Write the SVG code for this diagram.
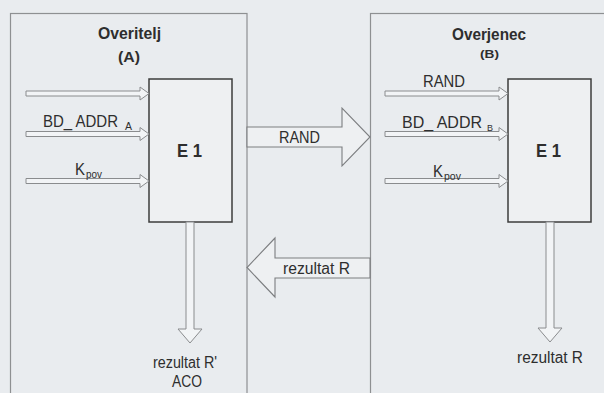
<svg xmlns="http://www.w3.org/2000/svg" width="604" height="393" viewBox="0 0 604 393">
<style>
.t{font-family:"Liberation Sans",Arial,sans-serif;fill:#2e2e2e}
.b{font-weight:bold}
.frame{fill:none;stroke:#8e9092;stroke-width:1.2}
.e1{fill:#eef0f2;stroke:#3c3c3c;stroke-width:1.5}
.arr{fill:#f2f4f6;stroke:#8a8c8e;stroke-width:1}
.big{fill:#eef0f2;stroke:#7c7e80;stroke-width:1.1}
</style>
<defs>
<path id="inA" d="M0,-2.5 H114 V-6.5 L123,0 L114,6.5 V2.5 H0 Z"/>
</defs>
<rect width="604" height="393" fill="#e9ecef"/>
<g id="verifier">
<rect class="frame" x="10.5" y="13.5" width="236.5" height="390"/>
<text class="t b" x="98" y="39" font-size="16" textLength="63" lengthAdjust="spacingAndGlyphs">Overitelj</text>
<text class="t b" x="118" y="62" font-size="15" textLength="22" lengthAdjust="spacingAndGlyphs">(A)</text>
</g>
<g id="claimant">
<rect class="frame" x="370.5" y="13.5" width="250" height="390"/>
<text class="t b" x="452" y="40" font-size="16" textLength="74" lengthAdjust="spacingAndGlyphs">Overjenec</text>
<text class="t b" x="480" y="58" font-size="11" textLength="19" lengthAdjust="spacingAndGlyphs">(B)</text>
</g>
<g id="e1-a">
<rect class="e1" x="149" y="79" width="83" height="143"/>
<text class="t b" x="177" y="157" font-size="19" textLength="25" lengthAdjust="spacingAndGlyphs">E 1</text>
</g>
<g id="e1-b">
<rect class="e1" x="508" y="79" width="83" height="143"/>
<text class="t b" x="536" y="157" font-size="19" textLength="25" lengthAdjust="spacingAndGlyphs">E 1</text>
</g>
<g id="connectors">
<use href="#inA" class="arr" x="26" y="93.5"/>
<use href="#inA" class="arr" x="26" y="134"/>
<use href="#inA" class="arr" x="26" y="181"/>
<use href="#inA" class="arr" x="385" y="93.5"/>
<use href="#inA" class="arr" x="385" y="134"/>
<use href="#inA" class="arr" x="385" y="181"/>
<path class="big" d="M247,127 H342 V108 L370,137 L342,166 V147 H247 Z"/>
<path class="big" d="M370,258 H275 V238 L247,267.5 L275,297 V278 H370 Z"/>
<path class="arr" d="M186,222 V329 H178 L190,343 L202,329 H194 V222 Z"/>
<path class="arr" d="M546,222 V328 H538 L550,342 L562,328 H554 V222 Z"/>
</g>
<g id="labels">
<text class="t" x="43" y="127" font-size="16" textLength="75" lengthAdjust="spacingAndGlyphs">BD_ ADDR</text>
<text class="t" x="125" y="130" font-size="10" textLength="7" lengthAdjust="spacingAndGlyphs">A</text>
<text class="t" x="75" y="175" font-size="17" textLength="10" lengthAdjust="spacingAndGlyphs">K</text>
<text class="t" x="86" y="178" font-size="11" textLength="16" lengthAdjust="spacingAndGlyphs">pov</text>
<text class="t" x="423" y="87" font-size="17" textLength="42" lengthAdjust="spacingAndGlyphs">RAND</text>
<text class="t" x="402" y="128" font-size="16" textLength="80" lengthAdjust="spacingAndGlyphs">BD_ ADDR</text>
<text class="t" x="487" y="131" font-size="9" textLength="6" lengthAdjust="spacingAndGlyphs">B</text>
<text class="t" x="433" y="177" font-size="17" textLength="10" lengthAdjust="spacingAndGlyphs">K</text>
<text class="t" x="444" y="180" font-size="11" textLength="17" lengthAdjust="spacingAndGlyphs">pov</text>
<text class="t" x="279" y="143" font-size="16" textLength="41" lengthAdjust="spacingAndGlyphs">RAND</text>
<text class="t" x="283" y="274" font-size="16" textLength="67" lengthAdjust="spacingAndGlyphs">rezultat R</text>
<text class="t" x="153" y="368" font-size="16" textLength="64" lengthAdjust="spacingAndGlyphs">rezultat R'</text>
<text class="t" x="172" y="387" font-size="16" textLength="30" lengthAdjust="spacingAndGlyphs">ACO</text>
<text class="t" x="517" y="363" font-size="16" textLength="66" lengthAdjust="spacingAndGlyphs">rezultat R</text>
</g>
</svg>
